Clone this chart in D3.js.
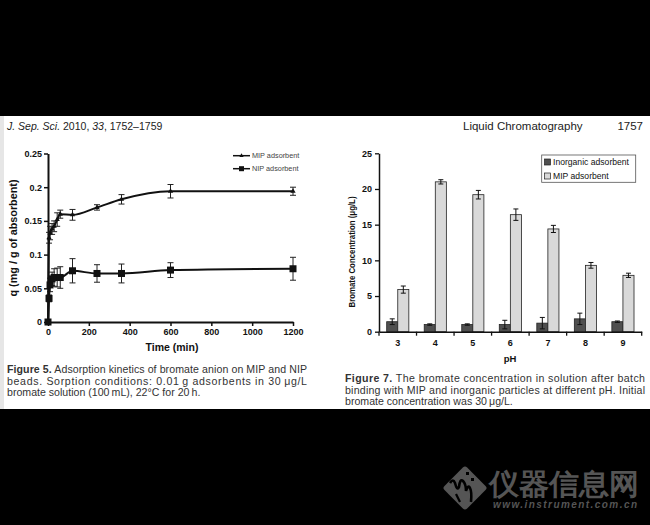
<!DOCTYPE html>
<html><head><meta charset="utf-8">
<script src="https://cdnjs.cloudflare.com/ajax/libs/d3/7.8.5/d3.min.js"></script>
<style>
html,body{margin:0;padding:0;background:#000;}
svg{display:block;}
text{font-family:"Liberation Sans",Arial,sans-serif;}
</style></head>
<body><svg id="c" width="650" height="525"></svg>
<script>
// ---- Figure 5 data (adsorption kinetics) ----
const timeMin = [0, 5, 10, 20, 30, 45, 60, 120, 240, 360, 600, 1200];
const mipQ    = [0, 0.125, 0.132, 0.138, 0.142, 0.152, 0.160, 0.159, 0.170, 0.182, 0.194, 0.194];
const mipErr  = [0, 0.008, 0.010, 0.008, 0.008, 0.010, 0.006, 0.008, 0.004, 0.007, 0.010, 0.006];
const nipQ    = [0, 0.035, 0.055, 0.064, 0.066, 0.066, 0.066, 0.076, 0.072, 0.072, 0.077, 0.079];
const nipErr  = [0, 0.005, 0.010, 0.010, 0.013, 0.014, 0.016, 0.018, 0.013, 0.014, 0.011, 0.017];
const timeTicks = [0, 200, 400, 600, 800, 1000, 1200];
const qTicks = [0, 0.05, 0.1, 0.15, 0.2, 0.25];
const fig5Series = ["MIP adsorbent", "NIP adsorbent"];

// ---- Figure 7 data (bromate vs pH) ----
const pHLevels = ["3", "4", "5", "6", "7", "8", "9"];
const inorganicConc = [1.4, 1.0, 1.0, 1.0, 1.2, 1.8, 1.4];
const inorganicErr  = [0.4, 0.1, 0.1, 0.6, 0.8, 0.8, 0.1];
const mipConc       = [5.9, 21.0, 19.2, 16.4, 14.4, 9.3, 7.9];
const mipConcErr    = [0.5, 0.3, 0.6, 0.8, 0.5, 0.4, 0.3];
const concTicks = [0, 5, 10, 15, 20, 25];
const fig7Series = ["Inorganic adsorbent", "MIP adsorbent"];

const svg = d3.select("#c");
const ink = "#111";

// page
svg.append("rect").attr("x",0).attr("y",0).attr("width",650).attr("height",525).attr("fill","#000");
svg.append("rect").attr("x",0).attr("y",116).attr("width",650).attr("height",293).attr("fill","#fff");
svg.append("rect").attr("x",0).attr("y",116).attr("width",4).attr("height",293).attr("fill","#e6e6e6");

// header
const h = svg.append("text").attr("x",7).attr("y",130).attr("font-size",10.5).attr("fill","#222");
h.append("tspan").attr("font-style","italic").text("J. Sep. Sci.");
h.append("tspan").text(" 2010, ");
h.append("tspan").attr("font-style","italic").text("33");
h.append("tspan").text(", 1752\u20131759");
svg.append("text").attr("x",463).attr("y",130).attr("font-size",11.5).attr("fill","#222").text("Liquid Chromatography");
svg.append("text").attr("x",643).attr("y",130).attr("text-anchor","end").attr("font-size",11.5).attr("fill","#222").text("1757");

// ================= Figure 5 =================
const x5 = d3.scaleLinear().domain([0,1200]).range([48,293]);
const y5 = d3.scaleLinear().domain([0,0.25]).range([322,153.5]);
const g5 = svg.append("g");

const ax5 = g5.append("g").attr("transform","translate(0,322)")
  .call(d3.axisBottom(x5).tickValues(timeTicks).tickSize(4).tickSizeOuter(0).tickPadding(3).tickFormat(d3.format("d")));
const ay5 = g5.append("g").attr("transform","translate(48,0)")
  .call(d3.axisLeft(y5).tickValues(qTicks).tickSize(4).tickSizeOuter(0).tickPadding(2).tickFormat(d=>String(d)));
[ax5,ay5].forEach(a=>{
  a.select(".domain").attr("stroke",ink).attr("stroke-width",2);
  a.selectAll(".tick line").attr("stroke",ink).attr("stroke-width",1.5);
  a.selectAll(".tick text").attr("fill",ink).attr("font-weight","bold").attr("font-size",9).attr("font-family","Liberation Sans, Arial, sans-serif");
});
g5.append("text").attr("x",172).attr("y",351).attr("text-anchor","middle").attr("font-weight","bold").attr("font-size",10.5).attr("fill",ink).text("Time (min)");
g5.append("text").attr("transform","translate(17,238) rotate(-90)").attr("text-anchor","middle").attr("font-weight","bold").attr("font-size",10.5)
  .attr("fill",ink).attr("textLength",117).attr("lengthAdjust","spacingAndGlyphs").text("q (mg / g of absorbent)");

const line5 = d3.line().x(d=>x5(d.t)).y(d=>y5(d.q)).curve(d3.curveMonotoneX);
function seriesData(qs, es){ return timeMin.map((t,i)=>({t, q:qs[i], e:es[i]})); }
const mipData = seriesData(mipQ, mipErr), nipData = seriesData(nipQ, nipErr);

function errBars(data, cap){
  const g = g5.append("g").attr("stroke","#222").attr("stroke-width",1);
  data.filter(d=>d.e>0).forEach(d=>{
    const cx=x5(d.t), y1=y5(d.q+d.e), y2=y5(d.q-d.e);
    g.append("line").attr("x1",cx).attr("x2",cx).attr("y1",y1).attr("y2",y2);
    g.append("line").attr("x1",cx-cap).attr("x2",cx+cap).attr("y1",y1).attr("y2",y1);
    g.append("line").attr("x1",cx-cap).attr("x2",cx+cap).attr("y1",y2).attr("y2",y2);
  });
}
errBars(mipData,3); errBars(nipData,3);
g5.append("path").datum(mipData).attr("d",line5).attr("fill","none").attr("stroke",ink).attr("stroke-width",2);
g5.append("path").datum(nipData).attr("d",line5).attr("fill","none").attr("stroke",ink).attr("stroke-width",2);
g5.selectAll(".mipm").data(mipData).enter().append("path")
  .attr("transform",d=>`translate(${x5(d.t)},${y5(d.q)})`)
  .attr("d",d3.symbol(d3.symbolTriangle,12)).attr("fill",ink);
g5.selectAll(".nipm").data(nipData).enter().append("rect")
  .attr("x",d=>x5(d.t)-3.5).attr("y",d=>y5(d.q)-3.5).attr("width",7).attr("height",7).attr("fill",ink);

// legend fig 5
const lg5 = g5.append("g");
fig5Series.forEach((s,i)=>{
  const yy = 155.7 + i*13;
  lg5.append("line").attr("x1",233).attr("x2",250).attr("y1",yy).attr("y2",yy).attr("stroke",ink).attr("stroke-width",1.5);
  if(i===0) lg5.append("path").attr("transform",`translate(241.5,${yy})`).attr("d",d3.symbol(d3.symbolTriangle,8)).attr("fill",ink);
  else lg5.append("rect").attr("x",239).attr("y",yy-2.5).attr("width",5).attr("height",5).attr("fill",ink);
  lg5.append("text").attr("x",252).attr("y",yy+2.6).attr("font-size",7.3).attr("fill","#444").text(s);
});

// ================= Figure 7 =================
const x7 = d3.scaleBand().domain(pHLevels).range([379,641.7]).paddingInner(0.41).paddingOuter(0.205);
const sub = d3.scaleBand().domain(fig7Series).range([0,x7.bandwidth()]);
const y7 = d3.scaleLinear().domain([0,25]).range([331.7,153.3]);
const g7 = svg.append("g");

const barData = [];
pHLevels.forEach((p,i)=>{
  barData.push({p, s:fig7Series[0], v:inorganicConc[i], e:inorganicErr[i]});
  barData.push({p, s:fig7Series[1], v:mipConc[i], e:mipConcErr[i]});
});
const fills = {[fig7Series[0]]:"#4f4f4f", [fig7Series[1]]:"#d9d9d9"};
g7.selectAll(".bar").data(barData).enter().append("rect")
  .attr("x",d=>x7(d.p)+sub(d.s)).attr("y",d=>y7(d.v))
  .attr("width",sub.bandwidth()).attr("height",d=>y7(0)-y7(d.v))
  .attr("fill",d=>fills[d.s]).attr("stroke","#222").attr("stroke-width",0.8);
const eg = g7.append("g").attr("stroke","#111").attr("stroke-width",1);
barData.forEach(d=>{
  const cx = x7(d.p)+sub(d.s)+sub.bandwidth()/2, a=y7(d.v+d.e), b=y7(d.v-d.e);
  eg.append("line").attr("x1",cx).attr("x2",cx).attr("y1",a).attr("y2",b);
  eg.append("line").attr("x1",cx-2.5).attr("x2",cx+2.5).attr("y1",a).attr("y2",a);
  eg.append("line").attr("x1",cx-2.5).attr("x2",cx+2.5).attr("y1",b).attr("y2",b);
});

const ax7 = g7.append("g").attr("transform","translate(0,331.7)")
  .call(d3.axisBottom(x7).tickSize(0).tickSizeOuter(0).tickPadding(8));
// boundary ticks between categories
const step = x7.step(), x0 = x7.range()[0];
d3.range(pHLevels.length+1).forEach(i=>{
  ax7.append("line").attr("x1",x0+i*step).attr("x2",x0+i*step).attr("y1",0).attr("y2",4).attr("stroke",ink).attr("stroke-width",1.3);
});
const ay7 = g7.append("g").attr("transform","translate(379,0)")
  .call(d3.axisLeft(y7).tickValues(concTicks).tickSize(4).tickSizeOuter(0).tickPadding(3));
[ax7,ay7].forEach(a=>{
  a.select(".domain").attr("stroke",ink).attr("stroke-width",1.5);
  a.selectAll(".tick line").attr("stroke",ink).attr("stroke-width",1.3);
  a.selectAll(".tick text").attr("fill",ink).attr("font-weight","bold").attr("font-size",9).attr("font-family","Liberation Sans, Arial, sans-serif");
});
g7.append("text").attr("x",510).attr("y",361.5).attr("text-anchor","middle").attr("font-weight","bold").attr("font-size",9.5).attr("fill",ink).text("pH");
g7.append("text").attr("transform","translate(355,252) rotate(-90)").attr("text-anchor","middle").attr("font-weight","bold").attr("font-size",9)
  .attr("fill",ink).attr("textLength",111).attr("lengthAdjust","spacingAndGlyphs").text("Bromate Concentration (\u03bcg/L)");

// legend fig 7
const lg7 = g7.append("g");
lg7.append("rect").attr("x",541.7).attr("y",155).attr("width",94).attr("height",27.3).attr("fill","#fff").attr("stroke","#555").attr("stroke-width",0.8);
fig7Series.forEach((s,i)=>{
  const yy = 162 + i*14;
  lg7.append("rect").attr("x",544.5).attr("y",yy-3).attr("width",6).attr("height",6).attr("fill",fills[s]).attr("stroke","#222").attr("stroke-width",0.7);
  lg7.append("text").attr("x",553).attr("y",yy+3.2).attr("font-size",8.6).attr("fill",ink).text(s);
});

// ================= captions =================
function capLine(x, y, parts, width){
  const t = svg.append("text").attr("x",x).attr("y",y).attr("font-size",10.6).attr("fill","#333");
  parts.forEach(p=>{ const ts=t.append("tspan").text(p[0]); if(p[1]) ts.attr("font-weight","bold"); });
  if(width) t.attr("textLength",width).attr("lengthAdjust","spacing");
}
capLine(7,373,[["Figure 5.",1],[" Adsorption kinetics of bromate anion on MIP and NIP"]],300);
capLine(7,384.5,[["beads. Sorption conditions: 0.01\u2009g adsorbents in 30\u2009\u03bcg/L"]],300);
capLine(7,396,[["bromate solution (100\u2009mL), 22\u00b0C for 20\u2009h."]]);
capLine(345,382,[["Figure 7.",1],[" The bromate concentration in solution after batch"]],300);
capLine(345,393.5,[["binding with MIP and inorganic particles at different pH. Initial"]],300);
capLine(345,405,[["bromate concentration was 30\u2009\u03bcg/L."]]);

// ================= watermark =================
const wm = svg.append("g");
wm.append("rect").attr("x",-16).attr("y",-16).attr("width",32).attr("height",32).attr("rx",3)
  .attr("transform","translate(465,488) rotate(45)").attr("fill","#555");
wm.append("path").attr("d","M450,483 q3,-5 5,0 q2,8 4,4 q1,-9 4,-6 q3,3 3,10 q2,-7 4,-3 q2,4 1,14")
  .attr("fill","none").attr("stroke","#000").attr("stroke-width",2.6);
wm.append("path").attr("d","M456,494 q2,4 4,8").attr("fill","none").attr("stroke","#000").attr("stroke-width",2.2);
wm.append("rect").attr("x",466).attr("y",472).attr("width",3).attr("height",3).attr("fill","#000");
wm.append("rect").attr("x",471).attr("y",478).attr("width",3).attr("height",3).attr("fill","#000");
wm.append("text").attr("x",489).attr("y",494).attr("font-family","Noto Sans CJK SC").attr("font-weight","bold").attr("font-size",29)
  .attr("fill","#555").attr("textLength",150).attr("lengthAdjust","spacingAndGlyphs").text("仪器信息网");
wm.append("text").attr("x",493).attr("y",507.5).attr("font-style","italic").attr("font-weight","bold").attr("font-size",10)
  .attr("fill","#555").attr("textLength",144).attr("lengthAdjust","spacing").text("www.instrument.com.cn");
</script></body></html>
